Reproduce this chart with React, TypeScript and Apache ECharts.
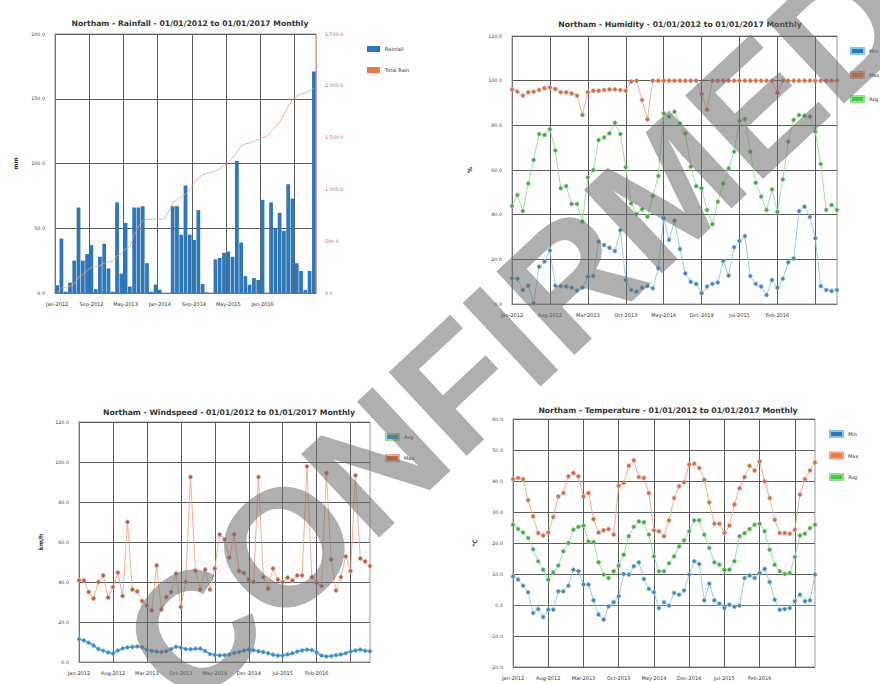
import React, { useEffect, useRef } from "react";
import * as echarts from "echarts";

// Month labels, Jan-2012 .. Jan-2017
const monthNames = ["Jan", "Feb", "Mar", "Apr", "May", "Jun", "Jul", "Aug", "Sep", "Oct", "Nov", "Dec"];
const categories: string[] = [];
for (let y = 2012; y <= 2016; y++) for (const m of monthNames) categories.push(`${m}-${y}`);
categories.push("Jan-2017");

// Rainfall (mm) per month and running total
const rainfall = [
  6, 42, 1, 8, 25, 66, 25, 30, 37, 3,
  28, 38, 19, 1, 70, 15, 54, 5, 66, 66,
  67, 23, 1, 6.5, 2.5, 0, 0, 67, 67, 45,
  83, 45, 41, 64, 7, 0.5, 0, 26, 27, 31,
  32, 28, 102, 39, 13, 6.5, 11.5, 10, 72, 0,
  70, 49.5, 62, 48, 84, 73, 23, 17, 2.5, 17, 171,
];
const totalRain = [
  10, 50, 55, 65, 90, 150, 180, 215, 250, 255,
  265, 290, 300, 305, 360, 380, 430, 450, 560, 640,
  700, 710, 710, 712, 715, 715, 780, 870, 900, 930,
  955, 1000, 1060, 1110, 1140, 1155, 1165, 1180, 1200, 1230,
  1260, 1300, 1360, 1420, 1440, 1450, 1465, 1480, 1500, 1510,
  1560, 1600, 1650, 1720, 1800, 1870, 1900, 1920, 1930, 1950, 1975,
];

// Humidity (%)
const humidityMin = [
  11.5, 11.3, 6.3, 8.2, 0.3, 16.7, 19, 24, 8.2, 8,
  7.8, 7.3, 6, 7.3, 12.2, 12.5, 28, 26.4, 25.2, 23.7,
  33, 10.7, 6.3, 5.5, 7.3, 8, 7, 16, 38.4, 28.7,
  37.3, 24.6, 13.7, 10, 9, 4.8, 7.8, 9, 9.6, 19.3,
  12.7, 25.4, 28.2, 30.4, 12.5, 9, 7.8, 4, 10.7, 7.3,
  11.3, 18.7, 20.4, 41.6, 43.6, 39, 29.4, 8, 6.3, 5.8, 6.3,
];
const humidityMax = [
  96, 95.1, 93.3, 94.8, 95, 95.8, 96.6, 97, 96.3, 94.8,
  94.8, 94.3, 93.3, 84.6, 94.8, 95.5, 95.5, 95.8, 96.1, 96.1,
  95.8, 95.5, 99.6, 100, 91.3, 82.7, 100, 100, 100, 100,
  100, 100, 100, 100, 100, 94, 87, 100, 100, 100,
  100, 100, 100, 100, 100, 100, 100, 100, 100, 94.6,
  100, 100, 100, 100, 100, 100, 100, 100, 100, 100, 100,
];
const humidityAvg = [
  43.9, 48.8, 41.6, 54, 64.5, 76.1, 75.7, 78.2, 68.7, 51.8,
  52.8, 44.8, 44.8, 36.9, 56.7, 60, 73.4, 74.6, 76.4, 81.2,
  76.1, 61.2, 45, 40.3, 42.4, 39.1, 48.4, 57.3, 85.4, 83.9,
  86.1, 80.9, 76.4, 61.5, 52.8, 51.8, 42.1, 35.7, 45.8, 54,
  60.7, 68.2, 82, 82.8, 68.2, 54.3, 48.1, 42.1, 51.3, 41.3,
  55.8, 72.7, 82.4, 84.6, 84.3, 83.9, 77.2, 62.7, 42.1, 44.3, 42.1,
];

// Windspeed (km/h)
const windAvg = [
  11.5, 10.8, 9.6, 8.2, 6.5, 5.6, 4.8, 4.2, 5.8, 6.8,
  7.3, 7.5, 7.8, 7.4, 6.2, 5.5, 5.2, 5, 5.4, 6.5,
  7.6, 7.2, 6.5, 6.4, 6.6, 6.7, 5.5, 4, 3.5, 3.3,
  3.4, 3.8, 4.5, 5, 5.8, 6.2, 5.9, 5.4, 5, 4.4,
  3.6, 3.2, 3.3, 3.8, 4.4, 5.2, 5.8, 6.2, 6, 4.8,
  3.2, 2.8, 3, 3.4, 3.8, 4.4, 5.2, 5.8, 6.2, 5.6, 5.4,
];
const windMax = [
  40.8, 40.8, 35, 31.7, 40, 43.3, 32.2, 37.5, 44.7, 33,
  70, 36.2, 35.3, 30.5, 28.3, 25.8, 48.3, 26.2, 32.5, 35,
  44.2, 27.5, 40, 92.5, 45.8, 36.3, 46.2, 36.2, 46.7, 63.8,
  61.2, 52.2, 63.8, 45.5, 44.5, 41.2, 40, 92.5, 42.5, 36.7,
  46.7, 41.2, 40, 42.2, 40.8, 43.3, 43.3, 97.8, 42.5, 39.5,
  38, 94.5, 51.2, 35.8, 42.5, 52.8, 45.5, 93.3, 51.7, 50.3, 48,
];

// Temperature (°C)
const tempMin = [
  9.2, 8.2, 6.2, 4.1, -2.6, -1.3, -3.9, -1.5, -1.5, 4.4,
  4.4, 6.2, 11.4, 10.9, 6.6, 6.6, 1.5, -3.1, -4.7, -0.4,
  0.9, 2.8, 10, 9.8, 12.5, 13.8, 8.4, 5.2, 4.1, -1,
  0.9, -0.2, 3.9, 3.3, 4.7, 9.8, 14.1, 13.2, 1.5, 6.9,
  1.5, 0.4, -1, 0.1, -0.6, -0.2, 8.7, 9.5, 8.7, 10.3,
  11.6, 7.4, 1.7, -1.5, -1.3, -1, 1.2, 3.3, 1.2, 1.5, 9.8,
];
const tempMax = [
  40.6, 41, 40.6, 33.8, 28.6, 23.2, 22.4, 23.4, 28.4, 35,
  36.1, 41.5, 42.6, 41.5, 35, 36.1, 27.7, 23.4, 24.1, 24.5,
  22.7, 38.5, 39.4, 44.9, 46.7, 41.3, 41, 36.1, 24.1, 23.8,
  22.2, 27.3, 34.5, 38.3, 39.6, 45.3, 45.6, 44.2, 40.4, 33.1,
  26.2, 26.2, 23.2, 25.6, 32.4, 37.7, 41.3, 44.9, 43.4, 46.3,
  39.9, 34.5, 27.5, 23.2, 23.2, 23, 24.3, 35.6, 40.6, 43.4, 46,
];
const tempAvg = [
  25.9, 24.5, 23.4, 21.6, 18, 14.1, 11.4, 8.2, 10.5, 12.7,
  17.3, 20, 24.3, 25.2, 25.6, 20.5, 20.3, 13.8, 9.8, 8.7,
  10.9, 12.7, 16.2, 22.2, 25.2, 27, 26.7, 22.7, 15.7, 10.9,
  10.9, 13.5, 15.7, 18.9, 20.9, 23.8, 27.3, 27.3, 22.7, 18.4,
  13.8, 13, 11.4, 11.4, 14.1, 22.2, 23.2, 24.5, 25.9, 26.2,
  23.8, 17.8, 13, 10.9, 10, 10.3, 15.5, 22.4, 23, 24.8, 25.9,
];

const FONT = "DejaVu Sans";
const BLUE = "#2f78b8";
const ORANGE = "#ee7442";
const GREEN = "#3fcc3f";

const gridLine = { show: true, lineStyle: { color: "#5e5e5e", width: 1 } };
const fmt1 = (v: number) => v.toFixed(1);
const fmtThousands = (v: number) =>
  v.toFixed(1).replace(/\B(?=(\d{3})+(?!\d))/g, ",");

function xAxis(gridIndex: number, step: number, bars: boolean) {
  return {
    type: "category",
    gridIndex,
    data: categories,
    boundaryGap: bars,
    axisLine: { lineStyle: { color: "#777" } },
    axisTick: { show: false },
    axisLabel: {
      interval: (i: number) => i % step === 0 && i < 56,
      fontSize: 5,
      fontFamily: FONT,
      color: "#333",
      margin: 8,
    },
    splitLine: { ...gridLine, interval: (i: number) => i % step === 0 },
  };
}

function yAxis(gridIndex: number, min: number, max: number, interval: number, name: string, nameGap: number) {
  return {
    type: "value",
    gridIndex,
    min,
    max,
    interval,
    name,
    nameLocation: "middle",
    nameGap,
    nameTextStyle: { fontSize: 6, fontFamily: FONT, fontWeight: "bold", color: "#333" },
    axisLine: { show: true, lineStyle: { color: "#777" } },
    axisTick: { show: false },
    axisLabel: { formatter: fmt1, fontSize: 4.8, fontFamily: FONT, color: "#444", margin: 10 },
    splitLine: gridLine,
  };
}

function title(text: string, left: number, top: number) {
  return {
    text,
    left,
    top,
    textAlign: "center",
    textStyle: { fontSize: 7.7, fontWeight: "bold", fontFamily: FONT, color: "#333" },
  };
}

function legend(left: number, top: number, gap: number, items: { name: string; color: string }[]) {
  return {
    orient: "vertical",
    left,
    top,
    itemGap: gap,
    itemWidth: 13,
    itemHeight: 6,
    icon: "rect",
    textStyle: { fontSize: 5, fontFamily: FONT, color: "#333" },
    data: items.map((d) => ({ name: d.name, itemStyle: { color: d.color } })),
  };
}

function lineSeries(name: string, data: any[], x: number, y: number, line: string, dot: string, width = 0.9, size = 4) {
  return {
    name,
    type: "line",
    xAxisIndex: x,
    yAxisIndex: y,
    data,
    symbol: "circle",
    symbolSize: size,
    showAllSymbol: true,
    lineStyle: { color: line, width },
    itemStyle: { color: dot, borderColor: line, borderWidth: 0.8 },
  };
}

export default function App() {
  const ref = useRef<HTMLDivElement>(null);

  useEffect(() => {
    document.body.style.margin = "0";
    if (!ref.current) return;
    const chart = echarts.init(ref.current, undefined, { renderer: "svg" });

    const humidityMaxData = humidityMax.map((v, i) =>
      i === 49 ? { value: v, itemStyle: { color: "#e0406e", borderColor: "#f58aa8" } } : v
    );

    chart.setOption({
      animation: false,
      backgroundColor: "#ffffff",
      title: [
        title("Northam - Rainfall - 01/01/2012 to 01/01/2017 Monthly", 185, 14),
        title("Northam - Humidity - 01/01/2012 to 01/01/2017 Monthly", 675, 15),
        title("Northam - Windspeed - 01/01/2012 to 01/01/2017 Monthly", 224, 403),
        title("Northam - Temperature - 01/01/2012 to 01/01/2017 Monthly", 663, 401),
      ],
      legend: [
        legend(362, 41, 15, [
          { name: "Rainfall", color: BLUE },
          { name: "Total Rain", color: ORANGE },
        ]),
        legend(845, 42, 16, [
          { name: "Min", color: BLUE },
          { name: "Max", color: ORANGE },
          { name: "Avg", color: GREEN },
        ]),
        legend(380, 428, 13, [
          { name: "Avg", color: "#3a8fd0" },
          { name: "Max", color: "#d0623c" },
        ]),
        legend(824, 425, 13.5, [
          { name: "Min", color: BLUE },
          { name: "Max", color: ORANGE },
          { name: "Avg", color: GREEN },
        ]),
      ],
      grid: [
        { left: 55, top: 34, width: 261, height: 259, show: true, borderColor: "#999" },
        { left: 512, top: 36, width: 325, height: 268, show: true, borderColor: "#999" },
        { left: 79, top: 422, width: 291, height: 240, show: true, borderColor: "#999" },
        { left: 513, top: 419, width: 302, height: 248, show: true, borderColor: "#999" },
      ],
      xAxis: [xAxis(0, 8, true), xAxis(1, 7, false), xAxis(2, 7, false), xAxis(3, 7, false)],
      yAxis: [
        yAxis(0, 0, 200, 50, "mm", 37),
        {
          type: "value",
          gridIndex: 0,
          position: "right",
          min: 0,
          max: 2500,
          interval: 500,
          axisLine: { show: true, lineStyle: { color: "#d9a0a0" } },
          axisTick: { show: false },
          axisLabel: { formatter: fmtThousands, fontSize: 4.8, fontFamily: FONT, color: "#c46a6a", margin: 9 },
          splitLine: { show: false },
        },
        yAxis(1, 0, 120, 20, "%", 40),
        yAxis(2, 0, 120, 20, "km/h", 36),
        yAxis(3, -20, 60, 10, "°C", 36),
      ],
      series: [
        {
          name: "Rainfall",
          type: "bar",
          xAxisIndex: 0,
          yAxisIndex: 0,
          data: rainfall,
          barCategoryGap: "12%",
          itemStyle: { color: BLUE },
        },
        {
          name: "Total Rain",
          type: "line",
          xAxisIndex: 0,
          yAxisIndex: 1,
          data: totalRain,
          showSymbol: false,
          lineStyle: { color: "#e9a282", width: 0.8 },
          itemStyle: { color: ORANGE },
        },
        lineSeries("Min", humidityMin, 1, 2, "#8ac6ea", "#4a82ad"),
        lineSeries("Max", humidityMaxData, 1, 2, "#f3a585", "#c0714f"),
        lineSeries("Avg", humidityAvg, 1, 2, "#8fe08f", "#4e9e4e"),
        lineSeries("Avg", windAvg, 2, 3, "#58a8dc", "#3a86bc", 1.6, 3.5),
        lineSeries("Max", windMax, 2, 3, "#f3a585", "#b0604a"),
        lineSeries("Min", tempMin, 3, 4, "#8ac6ea", "#4a82ad"),
        lineSeries("Max", tempMax, 3, 4, "#f3a585", "#c0714f"),
        lineSeries("Avg", tempAvg, 3, 4, "#8fe08f", "#4e9e4e"),
      ],
      graphic: [
        {
          type: "text",
          x: 517,
          y: 330,
          rotation: (43 * Math.PI) / 180,
          z: 100,
          silent: true,
          style: {
            text: "CONFIRMED",
            font: 'bold 166px "Liberation Sans"',
            fill: "rgba(110,110,110,0.55)",
            align: "center",
            verticalAlign: "middle",
            textAlign: "center",
            textVerticalAlign: "middle",
          },
        },
      ],
    });

    return () => chart.dispose();
  }, []);

  return <div ref={ref} style={{ width: 880, height: 684 }} />;
}
